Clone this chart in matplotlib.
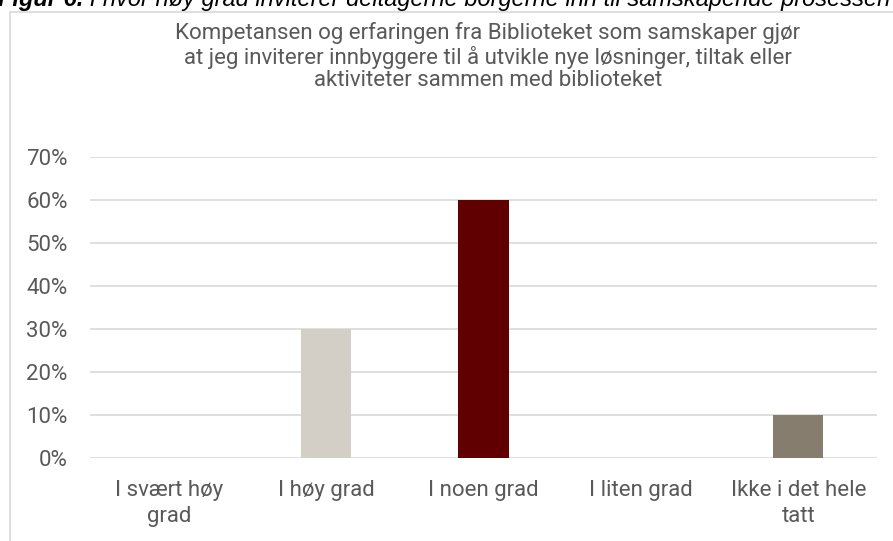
import matplotlib.pyplot as plt
from matplotlib.patches import Rectangle
from matplotlib.ticker import PercentFormatter

categories = ['I svært høy\ngrad', 'I høy grad', 'I noen grad', 'I liten grad', 'Ikke i det hele\ntatt']
values = [0.0, 0.30, 0.60, 0.0, 0.10]
colors = ['#D3CFC7', '#D3CFC7', '#600000', '#D3CFC7', '#877D6E']
yticks = [0, 0.1, 0.2, 0.3, 0.4, 0.5, 0.6, 0.7]

title = ('Kompetansen og erfaringen fra Biblioteket som samskaper gjør\n'
         'at jeg inviterer innbyggere til å utvikle nye løsninger, tiltak eller\n'
         'aktiviteter sammen med biblioteket')
caption_bold = 'Figur 6.'
caption = ' I hvor høy grad inviterer deltagerne borgerne inn til samskapende prosessen?'

plt.rcParams['font.family'] = ['Roboto', 'DejaVu Sans']
grey = '#595959'

fig = plt.figure(figsize=(8.93, 5.41), dpi=100)
ax = fig.add_axes([90/893, 1 - 458/541, (877 - 90)/893, (458 - 157)/541])

x = range(len(categories))
ax.bar(x, values, width=0.32, color=colors, zorder=3)

ax.set_ylim(0, 0.7)
ax.set_xlim(-0.5, len(categories) - 0.5)
ax.set_yticks(yticks)
ax.yaxis.set_major_formatter(PercentFormatter(1.0, decimals=0))
ax.set_xticks(list(x))
ax.set_xticklabels(categories, fontsize=16, color=grey, linespacing=1.3)
ax.tick_params(axis='y', labelsize=16, labelcolor=grey, length=0, pad=16)
ax.tick_params(axis='x', length=0, pad=16)
ax.grid(axis='y', color='#D9D9D9', linewidth=1.2, zorder=0)
for s in ax.spines.values():
    s.set_visible(False)

fig.text(488/893, 1 - 22/541, title, ha='center', va='top', fontsize=16,
         color=grey, linespacing=1.1)

# outer chart border
fig.patches.append(Rectangle((9.5/893, -0.05), 1.0, 1 - 12/541 + 0.05,
                             transform=fig.transFigure, fill=False,
                             edgecolor='#D9D9D9', linewidth=1.2))

# caption cut off at the top edge
t = fig.text(-2/893, 1 - 6/541, caption_bold, ha='left', va='baseline', fontsize=17,
             fontweight='bold', style='italic', color='black', family='Liberation Sans')
fig.canvas.draw()
bb = t.get_window_extent()
fig.text(bb.x1 / fig.bbox.width, 1 - 6/541, caption, ha='left', va='baseline', fontsize=17,
         style='italic', color='black', family='Liberation Sans')

fig.savefig('out.png', dpi=100)
